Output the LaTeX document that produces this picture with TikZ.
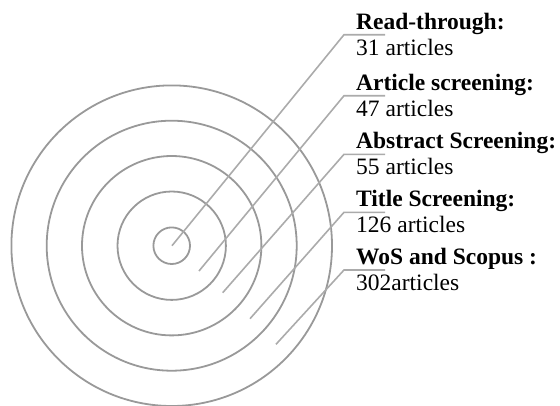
\documentclass[tikz,border=0pt]{standalone}
\usepackage{fontspec}
\setmainfont{Liberation Serif}
\tikzset{
  ring/.style={draw=black!40, line width=1.8pt},
  leader/.style={draw=black!33, line width=1.6pt},
  head/.style={anchor=base west, inner sep=0pt, font=\fontsize{23.5}{26}\selectfont\bfseries},
  count/.style={anchor=base west, inner sep=0pt, font=\fontsize{23.5}{26}\selectfont},
}
\begin{document}
\begin{tikzpicture}[x=1pt,y=-1pt]
\useasboundingbox (0,0) rectangle (560,405);
\coordinate (c) at (171.7,245.7);
\foreach \r in {18.3,54.2,89.7,125,160.3}{
  \draw[ring] (c) circle[radius=\r];
}
% leader lines
\coordinate (s1) at (172,245.7);  \coordinate (k1) at (344,34.7);  \coordinate (e1) at (385,34.7);
\coordinate (s2) at (199,271);    \coordinate (k2) at (344,95.7);  \coordinate (e2) at (385,95.7);
\coordinate (s3) at (222.7,292.7);\coordinate (k3) at (344,154.3); \coordinate (e3) at (385,154.3);
\coordinate (s4) at (250,318.7);  \coordinate (k4) at (344,212.3); \coordinate (e4) at (385,212.3);
\coordinate (s5) at (276,344.3);  \coordinate (k5) at (344,270);   \coordinate (e5) at (385,270);
\foreach \i in {1,...,5}{
  \draw[leader] (s\i) -- (k\i) -- (e\i);
}
% labels
\node[head]  (h1) at (356,29.2)  {Read-through:};
\node[count] (n1) at (356,55.2)  {31 articles};
\node[head]  (h2) at (356,90.2)  {Article screening:};
\node[count] (n2) at (356,116.2) {47 articles};
\node[head]  (h3) at (356,148.8) {Abstract Screening:};
\node[count] (n3) at (356,174.8) {55 articles};
\node[head]  (h4) at (356,206.8) {Title Screening:};
\node[count] (n4) at (356,232.8) {126 articles};
\node[head]  (h5) at (356,264.5) {WoS and Scopus :};
\node[count] (n5) at (356,290.5) {302articles};
\end{tikzpicture}
\end{document}
